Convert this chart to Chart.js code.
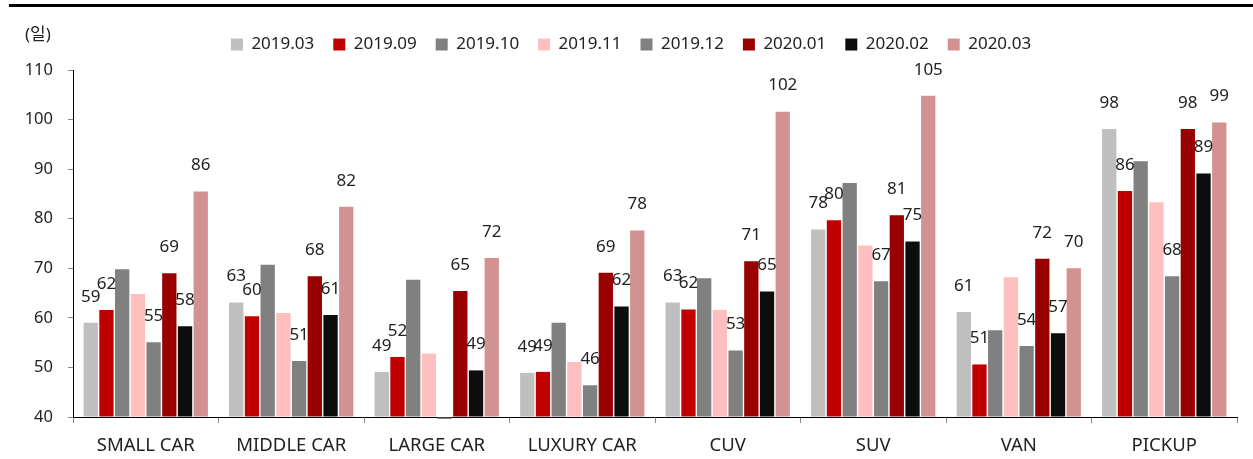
<!DOCTYPE html>
<html>
<head>
<meta charset="utf-8">
<script src="https://cdn.jsdelivr.net/npm/chart.js@4.4.1/dist/chart.umd.min.js"></script>
<style>
  html, body { margin: 0; padding: 0; background: #fff; }
  #wrap { position: relative; width: 1253px; height: 459px; overflow: hidden; }
  #topline { position: absolute; left: 9px; top: 4px; width: 1244px; height: 3px; background: #000; }
  #unit { position: absolute; left: 25px; top: 20px; font: 17px "Noto Sans", "Noto Sans CJK KR", sans-serif; color: #222; }
  #box { position: absolute; left: 0; top: 0; width: 1253px; height: 459px; }
</style>
</head>
<body>
<div id="wrap">
  <div id="box"><canvas id="c"></canvas></div>
  <div id="topline"></div>
  <div id="unit">(일)</div>
</div>
<script>
const categories = ["SMALL CAR", "MIDDLE CAR", "LARGE CAR", "LUXURY CAR", "CUV", "SUV", "VAN", "PICKUP"];
const seriesNames = ["2019.03", "2019.09", "2019.10", "2019.11", "2019.12", "2020.01", "2020.02", "2020.03"];
const s201903 = [59.0, 63.1, 49.1, 48.9, 63.1, 77.8, 61.2, 98.1];
const s201909 = [61.6, 60.3, 52.1, 49.1, 61.7, 79.7, 50.6, 85.6];
const s201910 = [69.8, 70.7, 67.7, 59.0, 68.0, 87.2, 57.5, 91.6];
const s201911 = [64.8, 61.0, 52.8, 51.1, 61.6, 74.6, 68.2, 83.3];
const s201912 = [55.1, 51.3, 39.6, 46.4, 53.4, 67.4, 54.3, 68.4];
const s202001 = [69.0, 68.4, 65.4, 69.1, 71.4, 80.7, 71.9, 98.1];
const s202002 = [58.3, 60.6, 49.4, 62.3, 65.3, 75.4, 56.9, 89.1];
const s202003 = [85.5, 82.4, 72.1, 77.6, 101.6, 104.8, 70.0, 99.4];
const yTicks = [40, 50, 60, 70, 80, 90, 100, 110];

const seriesValues = [s201903, s201909, s201910, s201911, s201912, s202001, s202002, s202003];
const colors = ["#BFBFBF", "#C00000", "#808080", "#FFBFBF", "#808080", "#990000", "#0D0D0D", "#D29292"];
const showLabels = [true, true, false, false, true, true, true, true];

const FONT = '"Noto Sans", "Noto Sans CJK KR", sans-serif';

const labelPlugin = {
  id: 'barLabels',
  afterDatasetsDraw(chart) {
    const ctx = chart.ctx;
    const yMin = chart.scales.y.min;
    ctx.save();
    ctx.font = '17px ' + FONT;
    ctx.fillStyle = '#222';
    ctx.textAlign = 'center';
    ctx.textBaseline = 'middle';
    chart.data.datasets.forEach((ds, i) => {
      if (!showLabels[i]) return;
      const meta = chart.getDatasetMeta(i);
      meta.data.forEach((bar, j) => {
        const v = ds.data[j];
        if (v < yMin) return;
        ctx.fillText(String(Math.round(v)), bar.x, bar.y - 26);
      });
    });
    ctx.restore();
  }
};

const legendFit = {
  id: 'legendFit',
  beforeInit(chart) {
    const orig = chart.legend.fit;
    chart.legend.fit = function () {
      orig.bind(chart.legend)();
      this.height += 7;
    };
  }
};

new Chart(document.getElementById('c'), {
  type: 'bar',
  data: {
    labels: categories,
    datasets: seriesNames.map((n, i) => ({
      label: n,
      data: seriesValues[i],
      backgroundColor: colors[i],
      borderWidth: 0,
      base: 40,
      clip: false,
      categoryPercentage: 0.864,
      barPercentage: 0.91
    }))
  },
  options: {
    responsive: true,
    maintainAspectRatio: false,
    animation: false,
    layout: { padding: { left: 25, right: 16, top: 17, bottom: 2 } },
    plugins: {
      legend: {
        position: 'top',
        labels: {
          boxWidth: 12, boxHeight: 12, padding: 19,
          color: '#222',
          font: { family: FONT, size: 17 }
        }
      },
      tooltip: { enabled: false }
    },
    scales: {
      x: {
        afterFit(scale) { scale.height = 40; },
        grid: { display: true, offset: true, drawOnChartArea: false, tickLength: 6, color: '#888' },
        border: { color: '#000', width: 1 },
        ticks: { color: '#222', padding: 12, font: { family: FONT, size: 18.5 } }
      },
      y: {
        min: 40, max: 110,
        afterBuildTicks(scale) { scale.ticks = yTicks.map(v => ({ value: v })); },
        afterFit(scale) { scale.width = 48; },
        grid: { drawOnChartArea: false, tickLength: 5, color: '#888' },
        border: { color: '#000', width: 1 },
        ticks: { color: '#222', padding: 15, font: { family: FONT, size: 16.5 } }
      }
    }
  },
  plugins: [labelPlugin, legendFit]
});
</script>
</body>
</html>
